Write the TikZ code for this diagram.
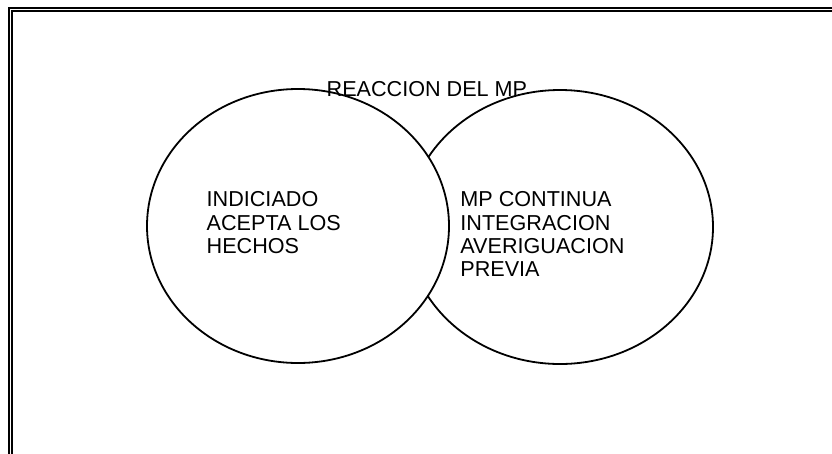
\documentclass[tikz,border=0pt]{standalone}
\usepackage{fontspec}
\usetikzlibrary{shapes.geometric}
\setmainfont{Liberation Sans}
\tikzset{
  lbl/.style={font=\fontsize{21.6}{23.3}\selectfont, inner sep=0pt, align=left},
  circ/.style={ellipse, draw=black, line width=1.8pt, fill=white, inner sep=0pt}
}
\begin{document}
\begin{tikzpicture}[x=1pt,y=-1pt]
\useasboundingbox (0,0) rectangle (832,453);
% frame
\draw[line width=2.8pt] (9,460) -- (9,8) -- (840,8);
\draw[line width=1.5pt] (12.2,460) -- (12.2,11.2) -- (840,11.2);
% ellipses
\node[circ, minimum width=306pt, minimum height=274pt] (r) at (560,227) {};
\node[circ, minimum width=302pt, minimum height=274pt] (l) at (298,226) {};
\node[lbl, anchor=base west] (t) at (326.5,96) {REACCION DEL MP};
\node[lbl, anchor=base west] (a) at (206.5,253.3) {INDICIADO\\ACEPTA LOS\\HECHOS};
\node[lbl, anchor=base west] (b) at (460.2,276.6) {MP CONTINUA\\INTEGRACION\\AVERIGUACION\\PREVIA};
\end{tikzpicture}
\end{document}
